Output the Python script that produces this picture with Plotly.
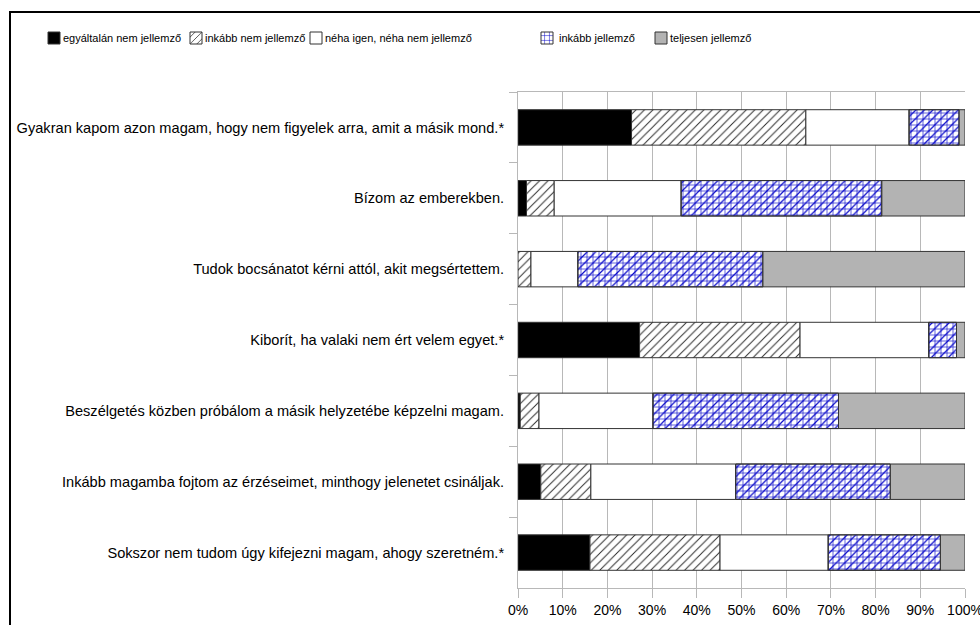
import numpy as np
import plotly.graph_objects as go

categories = [
    "Gyakran kapom azon magam, hogy nem figyelek arra, amit a másik mond.*",
    "Bízom az emberekben.",
    "Tudok bocsánatot kérni attól, akit megsértettem.",
    "Kiborít, ha valaki nem ért velem egyet.*",
    "Beszélgetés közben próbálom a másik helyzetébe képzelni magam.",
    "Inkább magamba fojtom az érzéseimet, minthogy jelenetet csináljak.",
    "Sokszor nem tudom úgy kifejezni magam, ahogy szeretném.*",
]
series_names = [
    "egyáltalán nem jellemző",
    "inkább nem jellemző",
    "néha igen, néha nem jellemző",
    "inkább jellemző",
    "teljesen jellemző",
]
egyaltalan_nem = [25.4, 1.9, 0.0, 27.2, 0.5, 5.1, 16.1]
inkabb_nem = [39.0, 6.2, 2.9, 35.9, 4.2, 11.2, 29.1]
neha = [23.1, 28.4, 10.5, 28.8, 25.5, 32.4, 24.2]
inkabb = [11.2, 44.9, 41.4, 6.2, 41.5, 34.6, 25.1]
teljesen = [1.3, 18.6, 45.2, 1.9, 28.3, 16.7, 5.5]
x_ticks = [0, 10, 20, 30, 40, 50, 60, 70, 80, 90, 100]
x_labels = [f"{v}%" for v in x_ticks]

values = [egyaltalan_nem, inkabb_nem, neha, inkabb, teljesen]
bases = np.cumsum([[0] * len(categories)] + values[:-1], axis=0)

outline = dict(color="#333333", width=1)
blue = "#0808c8"
styles = [
    dict(color="#000000", line=outline),
    dict(color="#ffffff", line=outline,
         pattern=dict(shape="/", size=6, solidity=0.16, fgcolor="#2a2a2a", bgcolor="#ffffff", fillmode="replace")),
    dict(color="#ffffff", line=outline),
    dict(color="#ffffff", line=outline,
         pattern=dict(shape="+", size=6, solidity=0.2, fgcolor=blue, bgcolor="#ffffff", fillmode="replace")),
    dict(color="#b3b3b3", line=outline),
]

W, H = 980, 625
L, R, T, B = 518, 15, 92, 37
pw, ph = W - L - R, H - T - B

def px2x(px):
    return (px - L) / pw

def py2y(py):
    return (H - B - py) / ph

# legend layout (pixels) in the reference: swatch centres and text starts
legend_swatch_px = [53, 195, 315, 546, 660]
legend_text_px = [61, 203, 323, 557, 668]
legend_y_px = 38
legend_ids = ["legend", "legend2", "legend3", "legend4", "legend5"]

fig = go.Figure()
for name, vals, base, st, lid in zip(series_names, values, bases, styles, legend_ids):
    fig.add_trace(go.Bar(
        y=categories, x=vals, base=list(base), name="", orientation="h",
        marker=st, hoverinfo="skip", legend=lid, showlegend=True,
        meta=name,
    ))
    if name == "inkább jellemző":
        fig.add_trace(go.Bar(
            y=categories, x=vals, base=list(base), name="", orientation="h",
            showlegend=False, hoverinfo="skip",
            marker=dict(color="rgba(0,0,0,0)", line=outline,
                        pattern=dict(shape="/", size=6, solidity=0.2, fgcolor=blue,
                                     bgcolor="rgba(0,0,0,0)", fillmode="replace")),
        ))

legend_layouts = {}
for lid, sx in zip(legend_ids, legend_swatch_px):
    legend_layouts[lid] = dict(
        orientation="h", x=px2x(sx - 19), y=py2y(legend_y_px), xanchor="left", yanchor="middle",
        font=dict(size=11), itemwidth=30, bgcolor="rgba(0,0,0,0)", borderwidth=0,
    )

annotations = [
    dict(text=name, xref="paper", yref="paper", x=px2x(tx), y=py2y(legend_y_px),
         xanchor="left", yanchor="middle", showarrow=False,
         font=dict(size=11, color="#000000"))
    for name, tx in zip(series_names, legend_text_px)
]

fig.update_layout(
    width=W, height=H,
    margin=dict(l=L, r=R, t=T, b=B, pad=0, autoexpand=False),
    barmode="overlay", bargap=0.5,
    paper_bgcolor="white", plot_bgcolor="white",
    font=dict(family="Liberation Sans, Arial, sans-serif", color="#000000"),
    xaxis=dict(range=[0, 100], tickvals=x_ticks, ticktext=x_labels,
               showgrid=True, gridcolor="#b8b8b8", gridwidth=1,
               showline=True, linecolor="#b8b8b8", linewidth=1, mirror=True,
               ticks="outside", ticklen=9, tickcolor="#b8b8b8", automargin=False,
               tickfont=dict(size=14), zeroline=False, ticklabeloverflow="allow"),
    yaxis=dict(categoryorder="array", categoryarray=categories, autorange="reversed",
               showgrid=False, showline=True, linecolor="#b8b8b8", linewidth=1,
               ticks="outside", ticklen=8, tickcolor="#b8b8b8", tickson="boundaries",
               automargin=False, tickfont=dict(size=14.6), ticklabelstandoff=10),
    annotations=annotations,
    shapes=[dict(type="rect", xref="paper", yref="paper",
                 x0=px2x(10), x1=px2x(W + 10), y0=py2y(H + 10), y1=py2y(12),
                 line=dict(color="#000000", width=2), fillcolor="rgba(0,0,0,0)", layer="above")],
    **legend_layouts,
)

fig.write_html("out.html")
